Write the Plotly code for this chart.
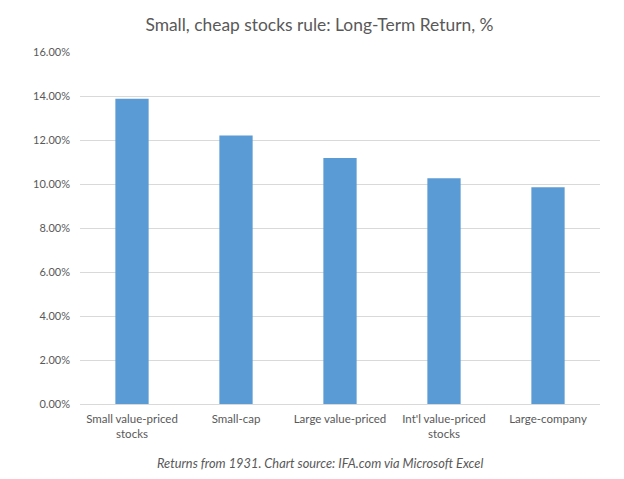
import plotly.graph_objects as go

categories = [
    "Small value-priced<br>stocks",
    "Small-cap",
    "Large value-priced",
    "Int'l value-priced<br>stocks",
    "Large-company",
]
returns = [0.1388, 0.1220, 0.1118, 0.1026, 0.0985]
y_ticks = [0.0, 0.02, 0.04, 0.06, 0.08, 0.10, 0.12, 0.14, 0.16]

title_text = "Small, cheap stocks rule: Long-Term Return, %"
caption_text = "Returns from 1931. Chart source: IFA.com via Microsoft Excel"

fig = go.Figure(
    go.Bar(
        x=categories,
        y=returns,
        marker=dict(color="#5B9BD5", line=dict(width=0)),
        hoverinfo="x+y",
    )
)

fig.update_layout(
    width=624,
    height=479,
    paper_bgcolor="white",
    plot_bgcolor="white",
    margin=dict(l=80, r=24, t=52, b=75),
    bargap=0.68,
    showlegend=False,
    font=dict(family="Lato", color="#595959", size=11),
    title=dict(
        text=title_text,
        x=0.512,
        xanchor="center",
        y=1 - 25 / 479,
        yanchor="middle",
        font=dict(family="Lato", size=17.4, color="#595959"),
    ),
    annotations=[
        dict(
            text=caption_text,
            xref="paper",
            yref="paper",
            x=(319.5 - 80) / 520,
            y=-(463 - 404) / 352,
            xanchor="center",
            yanchor="middle",
            showarrow=False,
            font=dict(family="Lato", size=12.8, color="#595959", style="italic"),
        )
    ],
)

fig.update_yaxes(
    range=[0, 0.16],
    tickvals=y_ticks,
    tickformat=".2%",
    showgrid=True,
    gridcolor="#D9D9D9",
    gridwidth=1,
    zeroline=False,
    showline=False,
    ticks="",
    ticklabelstandoff=9,
    tickfont=dict(family="Lato", size=11, color="#595959"),
)

fig.update_xaxes(
    showline=True,
    linecolor="#D9D9D9",
    linewidth=1,
    ticks="",
    showgrid=False,
    ticklabelstandoff=4,
    tickfont=dict(family="Lato", size=11.5, color="#595959"),
)

fig.write_html(
    "out.html",
    config={"displayModeBar": False},
    post_script="document.body.style.margin='0';document.body.style.padding='0';",
)
